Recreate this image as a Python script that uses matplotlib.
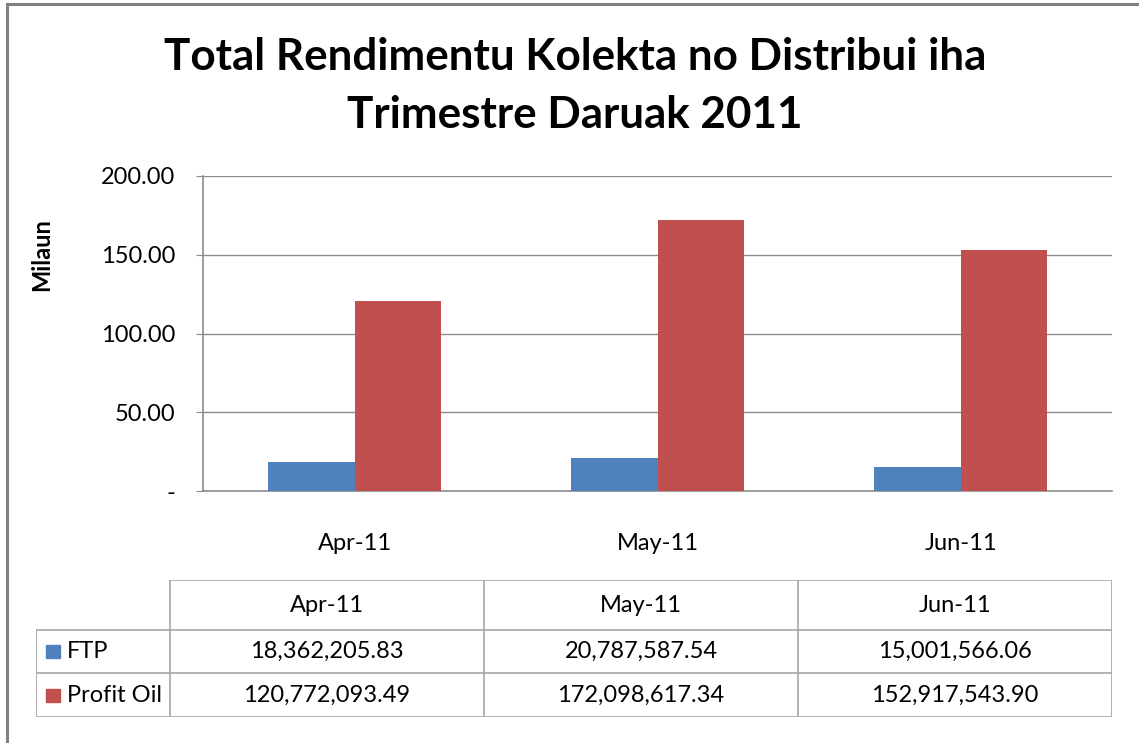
import numpy as np
import matplotlib.pyplot as plt
from matplotlib.patches import Rectangle
from matplotlib.lines import Line2D

# data, values in units (shown in millions on the chart)
months = ['Apr-11', 'May-11', 'Jun-11']
series_names = ['FTP', 'Profit Oil']
ftp = [18362205.83, 20787587.54, 15001566.06]
profit_oil = [120772093.49, 172098617.34, 152917543.90]
y_ticks = [0, 50, 100, 150, 200]

blue = '#4F81BD'
red = '#C0504D'
grid_c = '#8C8C8C'
font = 'Lato'
fs = 17

plt.rcParams['font.family'] = [font, 'DejaVu Sans']

W, H = 1139, 743
fig = plt.figure(figsize=(W / 100, H / 100), dpi=100)


def fx(px):
    return px / W


def fy(py):
    return 1 - py / H


# outer frame (left and top edges visible)
fig.add_artist(Line2D([fx(7), fx(7)], [fy(4), 0], color='#808080', lw=2.2))
fig.add_artist(Line2D([fx(7), 1], [fy(4), fy(4)], color='#808080', lw=2.2))

fig.text(fx(575), fy(57), 'Total Rendimentu Kolekta no Distribui iha',
         ha='center', va='center', fontsize=31.7, fontweight='bold')
fig.text(fx(575), fy(115), 'Trimestre Daruak 2011',
         ha='center', va='center', fontsize=31.7, fontweight='bold')

# bar chart
ax = fig.add_axes([fx(203), fy(491), fx(1112) - fx(203), fy(176) - fy(491)])
x = np.arange(len(months))
bw = 0.284
ax.bar(x - bw / 2, np.array(ftp) / 1e6, bw, color=blue, zorder=3)
ax.bar(x + bw / 2, np.array(profit_oil) / 1e6, bw, color=red, zorder=3)
ax.set_xlim(-0.5, len(months) - 0.5)
ax.set_ylim(0, 200)
ax.set_yticks(y_ticks)
ax.set_yticklabels(['-' if v == 0 else f'{v:.2f}' for v in y_ticks], fontsize=fs)
ax.set_xticks(x)
ax.set_xticklabels(months, fontsize=fs)
ax.tick_params(axis='x', length=0, pad=30)
ax.tick_params(axis='y', length=5, color=grid_c, pad=15)
ax.grid(axis='y', color=grid_c, lw=1, zorder=0)
for s in ['top', 'right']:
    ax.spines[s].set_visible(False)
for s in ['left', 'bottom']:
    ax.spines[s].set_color(grid_c)
    ax.spines[s].set_linewidth(1.2)
fig.text(fx(42), fy(255), 'Milaun', rotation=90, ha='center', va='center',
         fontsize=17, fontweight='bold')

# data table below the chart
tx0, tx1 = 36, 1112
ty = [580, 630, 673, 717]
col_w = (tx1 - 170) / len(months)
tab = fig.add_axes([fx(tx0), fy(ty[-1]), fx(tx1) - fx(tx0), fy(ty[0]) - fy(ty[-1])])
tab.set_xlim(tx0, tx1)
tab.set_ylim(ty[-1], ty[0])
tab.axis('off')
line_c = '#A6A6A6'
# horizontal lines
tab.plot([170, tx1], [ty[0], ty[0]], color=line_c, lw=1.2)
for yy in ty[1:]:
    tab.plot([tx0, tx1], [yy, yy], color=line_c, lw=1.2)
# vertical lines
tab.plot([tx0, tx0], [ty[1], ty[-1]], color=line_c, lw=1.2)
for i in range(len(months) + 1):
    xx = 170 + i * col_w
    tab.plot([xx, xx], [ty[0], ty[-1]], color=line_c, lw=1.2)

for i, m in enumerate(months):
    tab.text(170 + (i + 0.5) * col_w, (ty[0] + ty[1]) / 2, m,
             ha='center', va='center', fontsize=fs)
rows = [ftp, profit_oil]
colors = [blue, red]
for r, (name, vals, c) in enumerate(zip(series_names, rows, colors)):
    yc = (ty[r + 1] + ty[r + 2]) / 2
    tab.add_patch(Rectangle((46, yc - 6.5), 14, 13, color=c))
    tab.text(67, yc, name, ha='left', va='center', fontsize=fs)
    for i, v in enumerate(vals):
        tab.text(170 + (i + 0.5) * col_w, yc, f'{v:,.2f}',
                 ha='center', va='center', fontsize=fs)

fig.savefig('out.png', dpi=100)
